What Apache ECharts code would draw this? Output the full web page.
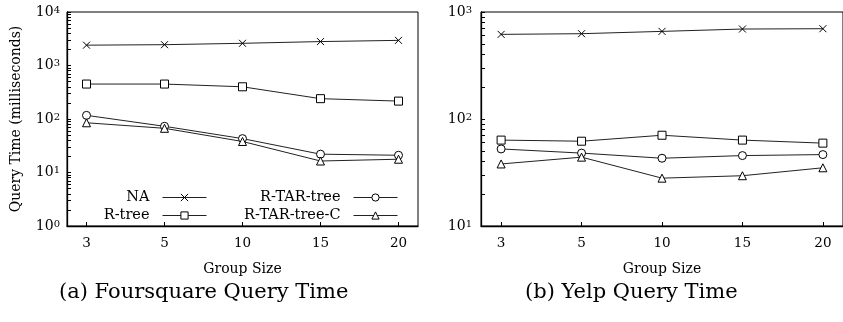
<!DOCTYPE html>
<html>
<head>
<meta charset="utf-8">
<script src="https://cdn.jsdelivr.net/npm/echarts@6/dist/echarts.min.js"></script>
<style>
  html, body { margin: 0; padding: 0; background: #fff; }
  #chart { width: 843px; height: 322px; }
</style>
</head>
<body>
<div id="chart"></div>
<script>
// group sizes (x categories)
const groups = ["3", "5", "10", "15", "20"];

// (a) Foursquare, query time in ms
const fsNA = [2400, 2450, 2600, 2800, 2950];
const fsRtree = [450, 450, 400, 240, 216];
const fsRtar = [117, 73, 43, 22, 21];
const fsRtarC = [85, 67, 38, 16.4, 17.7];

// (b) Yelp, query time in ms
const yelpNA = [618, 627, 659, 693, 698];
const yelpRtree = [63.5, 62, 70.5, 63.5, 59.5];
const yelpRtar = [52.5, 48, 43, 45.5, 46.5];
const yelpRtarC = [38, 44, 28, 29.5, 35];

const fsTicks = [1, 10, 100, 1000, 10000];
const yelpTicks = [10, 100, 1000];
const captions = ["(a) Foursquare Query Time", "(b) Yelp Query Time"];

const font = "DejaVu Serif";
const crossPath = "path://M0,0L10,10M10,0L0,10";

function minors(lo, hi) {
  const out = [];
  for (let d = lo; d < hi; d *= 10) {
    for (let k = 1; k <= 9; k++) out.push(d * k);
  }
  out.push(hi);
  return out;
}

function pts(vals) {
  return vals.map((v, i) => [i, v]);
}

function xAxis(gridIndex) {
  return {
    type: "value",
    gridIndex,
    min: -0.25,
    max: 4.25,
    name: "Group Size",
    nameLocation: "middle",
    nameGap: 36,
    nameTextStyle: { fontFamily: font, fontSize: 14, color: "#000" },
    axisLine: { onZero: false, lineStyle: { color: "#000", width: 1.3 } },
    axisTick: { inside: true, length: 4, customValues: [0, 1, 2, 3, 4], lineStyle: { color: "#000" } },
    axisLabel: {
      customValues: [0, 1, 2, 3, 4],
      formatter: (v) => groups[v],
      margin: 10,
      fontFamily: font,
      fontSize: 13.5,
      color: "#000"
    },
    splitLine: { show: false }
  };
}

function yAxis(gridIndex, lo, hi, ticks, margin) {
  return {
    type: "log",
    logBase: 10,
    gridIndex,
    min: lo,
    max: hi,
    axisLine: { onZero: false, lineStyle: { color: "#000", width: 1.3 } },
    axisTick: { inside: true, length: 4, customValues: minors(lo, hi), lineStyle: { color: "#000" } },
    axisLabel: {
      customValues: ticks,
      margin,
      formatter: (v) => "{b|10}{e|" + Math.round(Math.log10(v)) + "}",
      rich: {
        b: { fontFamily: font, fontSize: 14, lineHeight: 14, color: "#000", verticalAlign: "bottom" },
        e: { fontFamily: font, fontSize: 10, lineHeight: 10, color: "#000", verticalAlign: "top", padding: [0, 0, 7, 0] }
      }
    },
    splitLine: { show: false }
  };
}

function line(name, vals, symbol, axis) {
  return {
    name,
    type: "line",
    xAxisIndex: axis,
    yAxisIndex: axis,
    data: pts(vals),
    symbol,
    symbolSize: symbol === crossPath ? 7 : 8,
    lineStyle: { color: "#222", width: 1 },
    itemStyle: { color: "#fff", borderColor: "#000", borderWidth: 1 },
    emphasis: { disabled: true }
  };
}

function legend(names, right) {
  return {
    data: names,
    orient: "vertical",
    align: "right",
    right,
    top: 190,
    padding: 0,
    itemGap: 3,
    itemWidth: 44,
    itemHeight: 9,
    selectedMode: false,
    lineStyle: { width: 1, color: "#222" },
    itemStyle: { color: "#fff", borderColor: "#000", borderWidth: 1 },
    textStyle: { fontFamily: font, fontSize: 14.5, color: "#000", padding: [0, 8, 0, 0] }
  };
}

const captionStyle = { fontFamily: font, fontSize: 21, fontWeight: "normal", color: "#000" };

const chart = echarts.init(document.getElementById("chart"), null, { renderer: "canvas" });
chart.setOption({
  animation: false,
  backgroundColor: "#fff",
  title: [
    { text: captions[0], left: 59, top: 282, padding: 0, textStyle: captionStyle },
    { text: captions[1], left: 525, top: 282, padding: 0, textStyle: captionStyle }
  ],
  legend: [legend(["NA", "R-tree"], 636), legend(["R-TAR-tree", "R-TAR-tree-C"], 445)],
  grid: [
    { left: 67, right: 425, top: 12, bottom: 96, show: true, borderColor: "#000", borderWidth: 1 },
    { left: 481, right: -6.5, top: 12, bottom: 96, show: true, borderColor: "#000", borderWidth: 1 }
  ],
  xAxis: [xAxis(0), xAxis(1)],
  yAxis: [
    Object.assign(yAxis(0, 1, 10000, fsTicks, 7), {
      name: "Query Time (milliseconds)",
      nameLocation: "middle",
      nameGap: 44,
      nameTextStyle: { fontFamily: font, fontSize: 14, color: "#000" }
    }),
    yAxis(1, 10, 1000, yelpTicks, 9)
  ],
  series: [
    line("NA", fsNA, crossPath, 0),
    line("R-tree", fsRtree, "rect", 0),
    line("R-TAR-tree", fsRtar, "circle", 0),
    line("R-TAR-tree-C", fsRtarC, "triangle", 0),
    line("NA", yelpNA, crossPath, 1),
    line("R-tree", yelpRtree, "rect", 1),
    line("R-TAR-tree", yelpRtar, "circle", 1),
    line("R-TAR-tree-C", yelpRtarC, "triangle", 1)
  ]
});
</script>
</body>
</html>
